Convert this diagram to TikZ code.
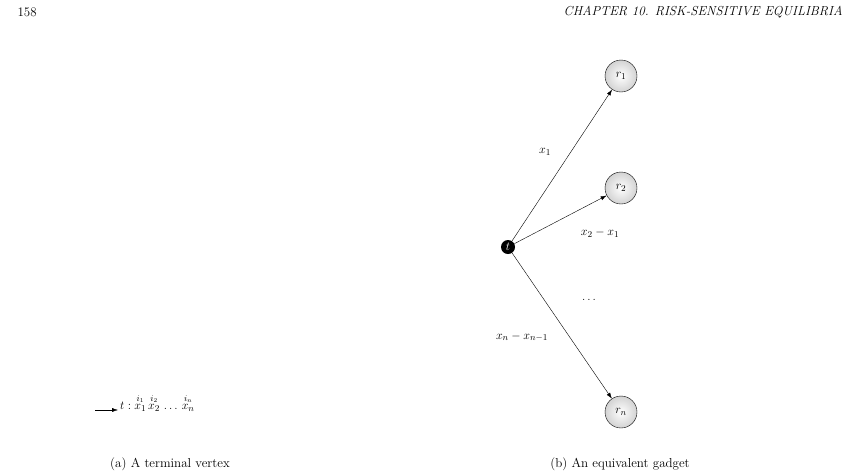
\documentclass[tikz,border=0pt]{standalone}
\usepackage{amsmath}
\usetikzlibrary{arrows.meta}
\begin{document}
\begin{tikzpicture}[x=1pt,y=-1pt,
  every node/.style={font=\fontsize{13}{15}\selectfont},
  rn/.style={circle,draw,minimum size=32pt,inner sep=0pt,inner color=white,outer color=gray!35},
  tn/.style={circle,fill=black,text=white,minimum size=14pt,inner sep=0pt},
  ed/.style={-{Latex[length=6pt,width=4pt]},thin}]
\useasboundingbox (0,0) rectangle (856,475);
\node[anchor=west] (pg) at (14,12) {158};
\node[anchor=east] (hd) at (846,12) {\textit{CHAPTER 10. RISK-SENSITIVE EQUILIBRIA}};
\node[tn] (t) at (508,247) {$t$};
\node[rn] (r1) at (621,76) {$r_1$};
\node[rn] (r2) at (621,188) {$r_2$};
\node[rn] (r3) at (621,412) {$r_n$};
\draw[ed] (t) -- (r1);
\draw[ed] (t) -- (r2);
\draw[ed] (t) -- (r3);
\node (l1) at (545,152) {$x_1$};
\node (l2) at (600,233) {$x_2-x_1$};
\node (l3) at (522,337) {$x_n-x_{n-1}$};
\node (dd) at (590,300) {$\dots$};
\coordinate (a0) at (95,410);
\node[anchor=west,inner sep=1pt] (tt) at (119,403) {$t: \overset{i_1}{x_1}\,\overset{i_2}{x_2}\,\dots\,\overset{i_n}{x_n}$};
\draw[ed] (a0) -- (118,410);
\node (ca) at (170,464) {(a) A terminal vertex};
\node (cb) at (620,464) {(b) An equivalent gadget};
\end{tikzpicture}
\end{document}
